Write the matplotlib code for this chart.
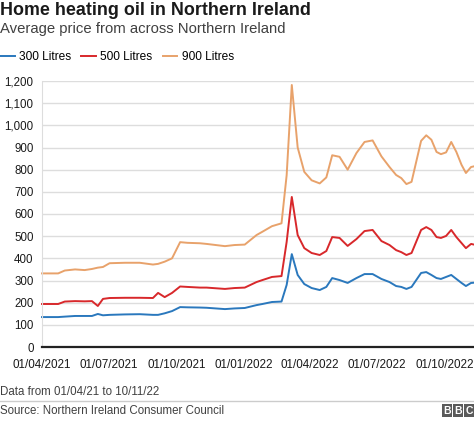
import pandas as pd
import matplotlib.pyplot as plt
from matplotlib.patches import Rectangle
from matplotlib.lines import Line2D

# Sample dates (roughly weekly readings) and average prices in pounds
dates = [
    '2021-04-01', '2021-04-23', '2021-05-02', '2021-05-16', '2021-05-29',
    '2021-06-08', '2021-06-16', '2021-06-23', '2021-07-02', '2021-07-23',
    '2021-08-12', '2021-08-30', '2021-09-06', '2021-09-15', '2021-09-25',
    '2021-10-06', '2021-10-16', '2021-11-02', '2021-11-11', '2021-12-06',
    '2021-12-19', '2022-01-02', '2022-01-18', '2022-01-26', '2022-02-08',
    '2022-02-21', '2022-02-28', '2022-03-07', '2022-03-15', '2022-03-24',
    '2022-04-03', '2022-04-14', '2022-04-23', '2022-05-01', '2022-05-11',
    '2022-05-22', '2022-06-03', '2022-06-14', '2022-06-25', '2022-07-07',
    '2022-07-18', '2022-07-27', '2022-08-03', '2022-08-10', '2022-08-17',
    '2022-08-30', '2022-09-06', '2022-09-13', '2022-09-20', '2022-09-26',
    '2022-10-03', '2022-10-10', '2022-10-17', '2022-10-24', '2022-10-30',
    '2022-11-06', '2022-11-10',
]

litres_300 = [
    135, 135, 137, 140, 140, 140, 149, 143, 145, 147,
    148, 145, 145, 152, 162, 180, 179, 178, 177, 171,
    174, 176, 189, 194, 203, 205, 280, 419, 325, 284,
    266, 257, 271, 311, 302, 289, 311, 329, 329, 307,
    293, 275, 271, 262, 271, 334, 338, 325, 311, 307,
    316, 325, 307, 289, 275, 289, 290,
]

litres_500 = [
    194, 194, 205, 207, 206, 207, 185, 217, 221, 222,
    222, 221, 244, 225, 244, 273, 271, 268, 268, 262,
    266, 268, 293, 302, 316, 320, 474, 677, 505, 446,
    424, 415, 433, 496, 492, 456, 487, 523, 528, 478,
    460, 437, 428, 415, 424, 528, 541, 528, 496, 492,
    501, 528, 496, 469, 446, 465, 462,
]

litres_900 = [
    332, 332, 345, 350, 347, 352, 358, 361, 378, 380,
    380, 372, 375, 385, 400, 473, 470, 468, 465, 455,
    460, 462, 505, 520, 545, 558, 775, 1182, 900, 790,
    752, 738, 765, 865, 858, 800, 875, 925, 932, 860,
    812, 776, 762, 735, 745, 930, 955, 935, 880, 870,
    878, 925, 880, 822, 785, 812, 815,
]

series_names = ['300 Litres', '500 Litres', '900 Litres']
series_colors = ['#2a78bd', '#d8282b', '#e8a26b']

tick_dates = ['2021-04-01', '2021-07-01', '2021-10-01', '2022-01-01',
              '2022-04-01', '2022-07-01', '2022-10-01']
tick_labels = ['01/04/2021', '01/07/2021', '01/10/2021', '01/01/2022',
               '01/04/2022', '01/07/2022', '01/10/2022']

y_ticks = [0, 100, 200, 300, 400, 500, 600, 700, 800, 900, 1000, 1100, 1200]

W, H = 474, 421


def fx(px):
    return px / W


def fy(py):
    # pixel rows counted from the top
    return 1 - py / H


def main():
    plt.rcParams['font.family'] = ['Liberation Sans', 'DejaVu Sans']

    fig = plt.figure(figsize=(W / 100, H / 100), dpi=100)
    ax = fig.add_axes([fx(42), fy(347), fx(474 - 42), (347 - 81) / H])

    x = pd.to_datetime(dates)
    for values, name, color in zip([litres_300, litres_500, litres_900],
                                   series_names, series_colors):
        ax.plot(x, values, color=color, lw=1.4, label=name,
                solid_joinstyle='round', clip_on=False)

    ax.set_xlim(pd.Timestamp('2021-04-01'), pd.Timestamp('2022-11-10'))
    ax.set_ylim(0, 1200)

    ax.set_xticks(pd.to_datetime(tick_dates))
    ax.set_xticklabels(tick_labels)
    ax.set_yticks(y_ticks)
    ax.set_yticklabels([f'{v:,}' for v in y_ticks])
    ax.tick_params(axis='x', length=0, pad=9, labelsize=8.4, colors='#1a1a1a')
    ax.tick_params(axis='y', length=0, pad=6, labelsize=8.3, colors='#1a1a1a')

    ax.grid(axis='y', color='#dddddd', lw=1)
    ax.set_axisbelow(True)
    for side in ['top', 'right']:
        ax.spines[side].set_visible(False)
    ax.spines['left'].set_color('#dddddd')
    ax.spines['bottom'].set_color('#222222')
    ax.spines['bottom'].set_linewidth(1.6)
    ax.spines['bottom'].set_zorder(5)

    # titles
    fig.text(0, fy(2), 'Home heating oil in Northern Ireland', fontsize=12.9,
             fontweight='bold', va='top', ha='left', color='#1a1a1a')
    fig.text(0, fy(22), 'Average price from across Northern Ireland',
             fontsize=10.7, va='top', ha='left', color='#404040')

    # legend
    handles, labels = ax.get_legend_handles_labels()
    fig.legend(handles, labels, loc='center left',
               bbox_to_anchor=(fx(-5), fy(57)), ncol=3, frameon=False,
               fontsize=8.6, handlelength=1.25, handletextpad=0.35,
               columnspacing=0.85, borderaxespad=0)

    # footer
    fig.text(0, fy(392), 'Data from 01/04/21 to 10/11/22', fontsize=8.3,
             va='center', ha='left', color='#404040')
    fig.add_artist(Line2D([0, 1], [fy(401), fy(401)], color='#cccccc',
                          lw=1, transform=fig.transFigure))
    fig.text(0, fy(411), 'Source: Northern Ireland Consumer Council',
             fontsize=8.3, va='center', ha='left', color='#404040')

    # BBC blocks
    for i, letter in enumerate('BBC'):
        x0 = 442 + i * 11
        fig.add_artist(Rectangle((fx(x0), fy(417)), fx(10), 13 / H,
                                 transform=fig.transFigure,
                                 color='#5a5a5a', lw=0))
        fig.text(fx(x0 + 5), fy(410.5), letter, fontsize=7.5,
                 fontweight='bold', color='white', ha='center', va='center')

    fig.savefig('out.png', dpi=100)


if __name__ == '__main__':
    main()
